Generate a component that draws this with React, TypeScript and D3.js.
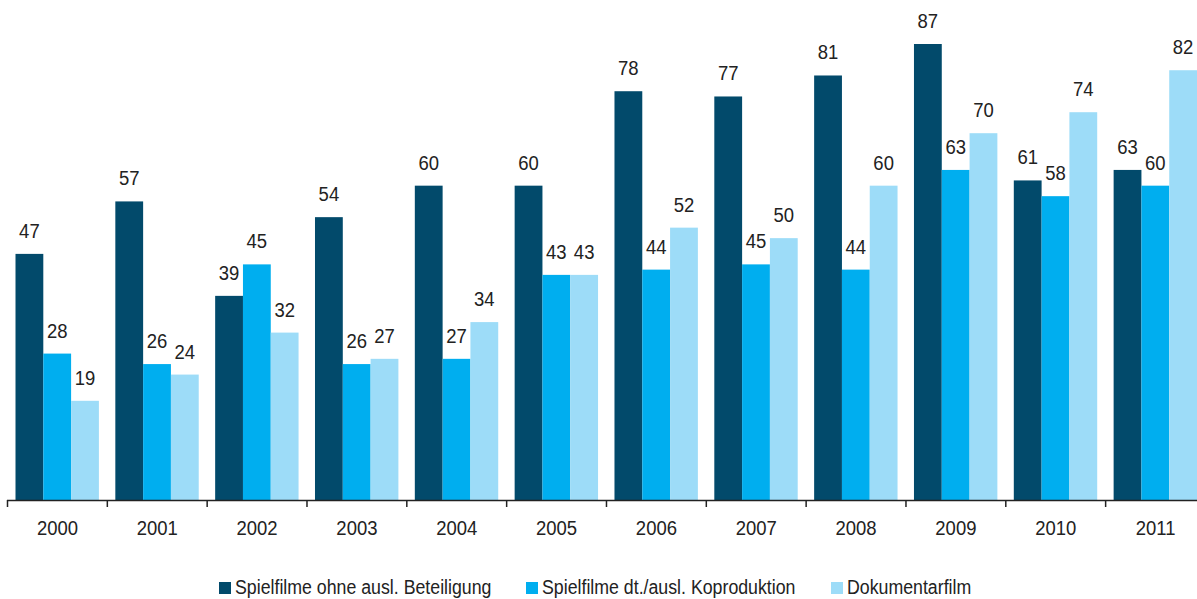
import React from "react";
import * as d3 from "d3";

const years = ["2000","2001","2002","2003","2004","2005","2006","2007","2008","2009","2010","2011"];
const spielfilme = [47,57,39,54,60,60,78,77,81,87,61,63];
const koproduktion = [28,26,45,26,27,43,44,45,44,63,58,60];
const dokumentar = [19,24,32,27,34,43,52,50,60,70,74,82];
const seriesNames = ["Spielfilme ohne ausl. Beteiligung","Spielfilme dt./ausl. Koproduktion","Dokumentarfilm"];
const colors = ["#024a6b","#00aeef","#9ddcf8"];

const W = 1197, H = 599;
const FONT = "'Liberation Sans', Arial, sans-serif";

function T(props: { x: number; y: number; size: number; sx?: number; anchor?: string; children: React.ReactNode }) {
  return (
    <text transform={`translate(${props.x},${props.y}) scale(${props.sx ?? 0.88},1)`} textAnchor={props.anchor || "start"} fontSize={props.size} fill="#222">
      {props.children}
    </text>
  );
}

export default function App() {
  const series = [spielfilme, koproduktion, dokumentar];
  const x = d3.scaleBand<string>().domain(years).range([7.5, 7.5 + 99.83 * 12]).padding(0);
  const inner = d3.scaleBand<number>().domain([0,1,2]).range([8, 8 + 27.8 * 3]).padding(0);
  const y = d3.scaleLinear().domain([0, 87]).range([500.5, 44]);
  const legendX = [219, 526, 831];
  return (
    <svg width={W} height={H} style={{position:"absolute", left:0, top:0, background:"#fff"}} fontFamily={FONT}>
      {years.map((yr, i) => (
        <g key={yr} transform={`translate(${x(yr)},0)`}>
          {series.map((s, j) => (
            <g key={j}>
              <rect x={inner(j)} y={y(s[i])} width={inner.bandwidth()} height={y(0) - y(s[i])} fill={colors[j]} />
              <T x={(inner(j) as number) + inner.bandwidth()/2} y={y(s[i]) - 16} size={21} anchor="middle">{s[i]}</T>
            </g>
          ))}
          <line x1={0} x2={0} y1={500} y2={507} stroke="#222" strokeWidth={1.5} />
          <T x={x.bandwidth()/2} y={535} size={21} anchor="middle">{yr}</T>
        </g>
      ))}
      <line x1={7} x2={W} y1={500.5} y2={500.5} stroke="#222" strokeWidth={1.5} />
      {seriesNames.map((n, j) => (
        <g key={n} transform={`translate(${legendX[j]},0)`}>
          <rect x={0} y={582} width={12} height={12} fill={colors[j]} />
          <T x={16} y={594} size={21} sx={0.845}>{n}</T>
        </g>
      ))}
    </svg>
  );
}
